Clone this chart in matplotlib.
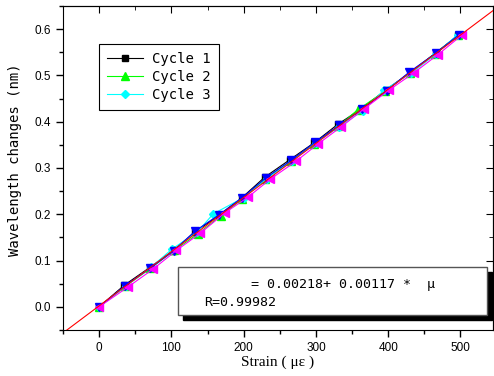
import numpy as np
import matplotlib.pyplot as plt
from matplotlib.patches import Rectangle
from matplotlib.ticker import MultipleLocator

# data
x1 = [0, 35, 70, 102, 133, 166, 197, 229, 264, 298, 330, 363, 397, 432, 466, 497]
y1 = [0.000, 0.047, 0.085, 0.121, 0.162, 0.198, 0.235, 0.280, 0.318, 0.355, 0.394, 0.428, 0.469, 0.508, 0.549, 0.587]
x2 = [0, 36, 71, 104, 137, 168, 198, 230, 265, 297, 331, 358, 396, 430, 465, 497]
y2 = [0.000, 0.044, 0.083, 0.122, 0.158, 0.196, 0.233, 0.277, 0.314, 0.352, 0.390, 0.426, 0.466, 0.506, 0.547, 0.587]
x3 = [0, 37, 72, 101, 136, 158, 200, 232, 267, 300, 332, 365, 394, 432, 466, 496]
y3 = [0.000, 0.045, 0.086, 0.125, 0.162, 0.201, 0.236, 0.277, 0.315, 0.354, 0.389, 0.424, 0.468, 0.505, 0.546, 0.588]
x4 = [0, 36, 71, 103, 133, 166, 198, 231, 266, 299, 332, 364, 398, 429, 466, 498]
y4 = [0.000, 0.046, 0.084, 0.121, 0.164, 0.199, 0.236, 0.279, 0.317, 0.356, 0.392, 0.427, 0.467, 0.507, 0.548, 0.588]
x5 = [0, 40, 75, 107, 140, 174, 206, 237, 272, 303, 335, 367, 401, 435, 469, 502]
y5 = [0.000, 0.043, 0.082, 0.122, 0.159, 0.203, 0.237, 0.276, 0.314, 0.352, 0.389, 0.428, 0.468, 0.505, 0.545, 0.587]

fit_a = 0.00218
fit_b = 0.00117
fit_r = 0.99982
fit_x = np.array([-50, 560])

mono = 'DejaVu Sans Mono'
plt.rcParams['font.family'] = 'Liberation Sans'

fig = plt.figure(figsize=(4.94, 3.76), dpi=100)
ax = fig.add_axes([0.1275, 0.1223, 0.8705, 0.862])

ms = 5.5
ax.plot(x1, y1, color='black', lw=0.8, marker='s', ms=ms - 0.5, label='Cycle 1', zorder=3)
ax.plot(x2, y2, color='#00ff00', lw=0.8, marker='^', ms=ms, label='Cycle 2', zorder=3)
ax.plot(x3, y3, color='#00ffff', lw=0.8, marker='D', ms=ms - 1, label='Cycle 3', zorder=3)
ax.plot(x4, y4, color='#0000ff', lw=0.8, marker='v', ms=ms, zorder=3)
ax.plot(x5, y5, color='#ff00ff', lw=0.8, marker='<', ms=ms + 0.5, zorder=3)
ax.plot(fit_x, fit_a + fit_b * fit_x, color='red', lw=0.8, zorder=4)

ax.set_xlim(-50, 545)
ax.set_ylim(-0.05, 0.65)
ax.xaxis.set_major_locator(MultipleLocator(100))
ax.xaxis.set_minor_locator(MultipleLocator(50))
ax.yaxis.set_major_locator(MultipleLocator(0.1))
ax.yaxis.set_minor_locator(MultipleLocator(0.05))
ax.yaxis.set_major_formatter(plt.FuncFormatter(lambda v, p: '%.1f' % v))
ax.tick_params(which='both', direction='out', labelsize=8.5, width=1)
ax.tick_params(which='major', length=5)
ax.tick_params(which='minor', length=3)

top = ax.secondary_xaxis('top')
top.xaxis.set_major_locator(MultipleLocator(100))
top.xaxis.set_minor_locator(MultipleLocator(50))
top.tick_params(which='both', direction='in', labeltop=False)
top.tick_params(which='major', length=5)
top.tick_params(which='minor', length=3)
right = ax.secondary_yaxis('right')
right.yaxis.set_major_locator(MultipleLocator(0.1))
right.yaxis.set_minor_locator(MultipleLocator(0.05))
right.tick_params(which='both', direction='in', labelright=False)
right.tick_params(which='major', length=5)
right.tick_params(which='minor', length=3)

ax.set_xlabel('Strain ( με )', family='Liberation Serif', fontsize=11, labelpad=1)
ax.set_ylabel('Wavelength changes (nm)', family=mono, fontsize=10)
ax.yaxis.set_label_coords(-0.095, 0.525)

leg = ax.legend(loc='upper left', bbox_to_anchor=(0.0837, 0.883), borderaxespad=0,
                prop={'family': mono, 'size': 10}, fancybox=False, frameon=True,
                edgecolor='black', framealpha=1, handlelength=2.6, handletextpad=0.6,
                labelspacing=0.28, borderpad=0.6)
leg.get_frame().set_linewidth(0.8)

# equation box with shadow
ax.add_patch(Rectangle((0.2786, 0.0306), 0.718, 0.147, transform=ax.transAxes,
                       facecolor='black', edgecolor='black', zorder=5, clip_on=False))
ax.add_patch(Rectangle((0.267, 0.046), 0.718, 0.147, transform=ax.transAxes,
                       facecolor='white', edgecolor='#555555', lw=1, zorder=6, clip_on=False))
ax.text(0.438, 0.139, '= %.5f+ %.5f *  μ' % (fit_a, fit_b), transform=ax.transAxes,
        family=mono, fontsize=9.5, va='center', ha='left', zorder=7)
ax.text(0.328, 0.086, 'R=%.5f' % fit_r, transform=ax.transAxes,
        family=mono, fontsize=9.5, va='center', ha='left', zorder=7)

fig.savefig('out.png', dpi=100)
